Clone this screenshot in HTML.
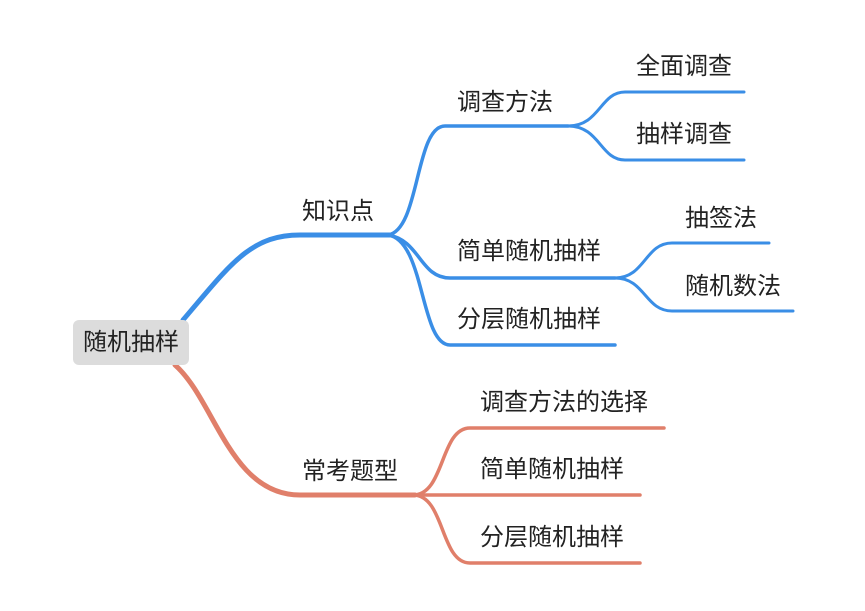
<!DOCTYPE html>
<html><head><meta charset="utf-8"><style>
body{margin:0;background:#fff;width:865px;height:611px;overflow:hidden;position:relative;font-family:"Liberation Sans","Noto Sans CJK SC",sans-serif;}
.t{position:absolute;font-size:24px;color:#222;line-height:1;white-space:nowrap;}
.root{position:absolute;left:73px;top:320px;width:116px;height:45px;background:#dcdcdc;border-radius:6px;font-size:24px;color:#222;text-align:center;line-height:45px;}
</style></head><body>
<svg width="865" height="611" style="position:absolute;left:0;top:0" fill="none" stroke-linecap="round">
<g stroke="#3a8ee6">
<path d="M183,320 C230,265 250,235 300,235 L390,235" stroke-width="5"/>
<path d="M388,235 C420,230 415,126 445,126 L568,126" stroke-width="3.5"/>
<path d="M388,235 C420,240 420,278 450,278 L615,278" stroke-width="3.5"/>
<path d="M388,235 C425,240 420,345 450,345 L615,345" stroke-width="3.5"/>
<path d="M568,126 C600,126 600,92 625,92 L744,92" stroke-width="3"/>
<path d="M568,126 C600,126 600,160 625,160 L744,160" stroke-width="3"/>
<path d="M615,278 C645,278 645,243 672,243 L769,243" stroke-width="3"/>
<path d="M615,278 C645,278 645,311 672,311 L793,311" stroke-width="3"/>
</g>
<g stroke="#e07f6a">
<path d="M175,365 C215,400 230,495 300,495 L415,495" stroke-width="5"/>
<path d="M413,495 C445,495 440,428 470,428 L664,428" stroke-width="3.5"/>
<path d="M413,495 L640,495" stroke-width="3.5"/>
<path d="M413,495 C445,495 440,563 470,563 L640,563" stroke-width="3.5"/>
</g>
</svg>
<div class="root">随机抽样</div>
<div class="t" style="left:302px;top:200px">知识点</div>
<div class="t" style="left:302px;top:460px">常考题型</div>
<div class="t" style="left:457px;top:91px">调查方法</div>
<div class="t" style="left:457px;top:240px">简单随机抽样</div>
<div class="t" style="left:457px;top:308px">分层随机抽样</div>
<div class="t" style="left:636px;top:55px">全面调查</div>
<div class="t" style="left:636px;top:123px">抽样调查</div>
<div class="t" style="left:685px;top:207px">抽签法</div>
<div class="t" style="left:685px;top:275px">随机数法</div>
<div class="t" style="left:480px;top:391px">调查方法的选择</div>
<div class="t" style="left:480px;top:458px">简单随机抽样</div>
<div class="t" style="left:480px;top:526px">分层随机抽样</div>
</body></html>
